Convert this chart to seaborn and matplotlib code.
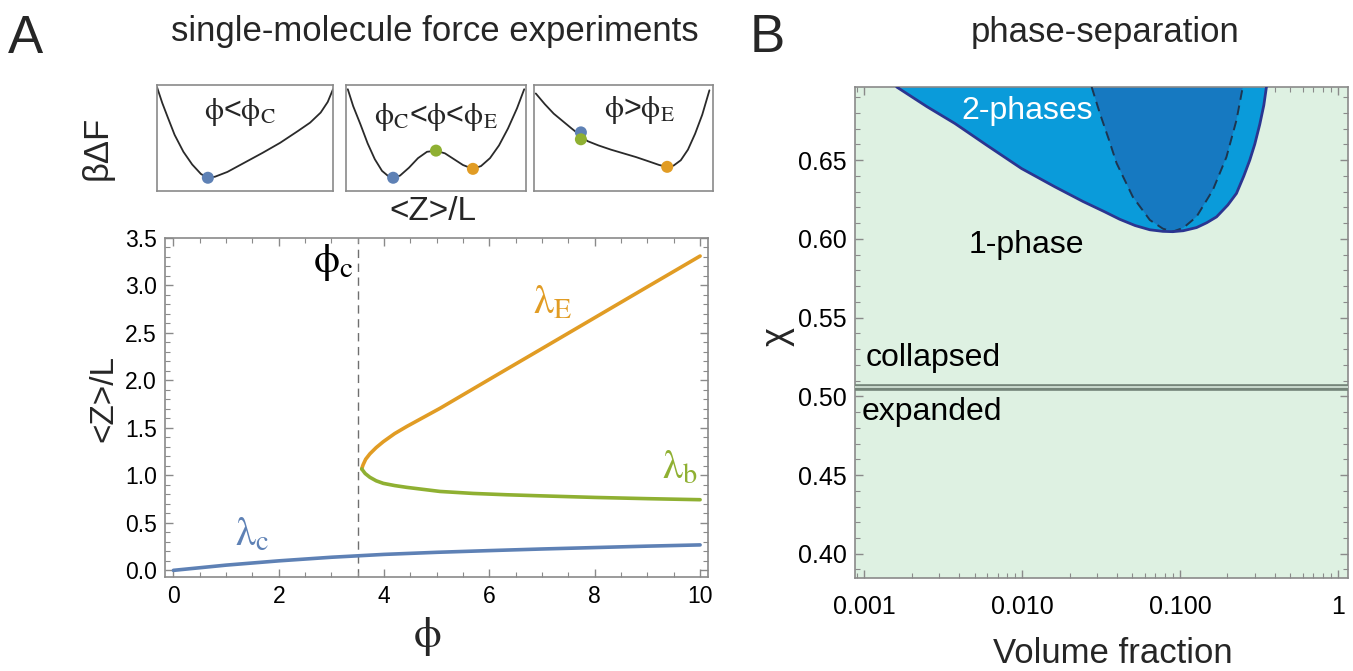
import numpy as np
import pandas as pd
import matplotlib
matplotlib.use("Agg")
import matplotlib.pyplot as plt
import seaborn as sns
from matplotlib.ticker import MultipleLocator, FixedLocator, FixedFormatter, LogLocator, NullFormatter

# ---------------- data : panel A (main) ----------------
lam_c_phi = [0, 1, 2, 3, 4, 5, 6, 7, 8, 9, 10]
lam_c_z = [0.0, 0.055, 0.10, 0.138, 0.168, 0.19, 0.208, 0.225, 0.24, 0.255, 0.268]

lam_e_phi = [3.575, 3.6, 3.65, 3.73, 3.85, 3.985, 4.2, 4.43, 4.75, 5.06, 5.69, 6.33, 6.96, 8, 9, 10]
lam_e_z = [1.068, 1.11, 1.17, 1.227, 1.293, 1.355, 1.44, 1.515, 1.612, 1.706, 1.911, 2.119, 2.323, 2.661, 2.986, 3.31]

lam_b_phi = [3.575, 3.64, 3.73, 3.85, 3.985, 4.2, 4.43, 5.06, 5.69, 6.33, 6.96, 8, 9, 10]
lam_b_z = [1.068, 1.02, 0.98, 0.943, 0.916, 0.893, 0.874, 0.831, 0.81, 0.796, 0.785, 0.768, 0.755, 0.744]

phi_crit = 3.5

# ---------------- data : panel A insets (schematic free energy) ----------------
ins1_x = [0.0, 0.03, 0.06, 0.1, 0.15, 0.2, 0.25, 0.29, 0.33, 0.4, 0.5, 0.6, 0.7, 0.8, 0.87, 0.93, 0.97, 1.0]
ins1_y = [0.98, 0.83, 0.70, 0.53, 0.37, 0.25, 0.16, 0.125, 0.135, 0.18, 0.27, 0.36, 0.455, 0.565, 0.645, 0.74, 0.84, 0.96]
ins1_dots_x = [0.289]
ins1_dots_y = [0.125]

ins2_x = [0.01, 0.04, 0.08, 0.12, 0.16, 0.2, 0.235, 0.262, 0.3, 0.35, 0.4, 0.45, 0.5, 0.55, 0.6, 0.65, 0.705, 0.75, 0.8, 0.85, 0.9, 0.95, 0.99]
ins2_y = [0.96, 0.80, 0.63, 0.45, 0.30, 0.19, 0.14, 0.125, 0.145, 0.22, 0.31, 0.37, 0.38, 0.355, 0.30, 0.245, 0.209, 0.235, 0.31, 0.43, 0.59, 0.78, 0.96]
ins2_dots_x = [0.262, 0.5, 0.705]
ins2_dots_y = [0.125, 0.381, 0.209]

ins3_x = [0.01, 0.06, 0.11, 0.16, 0.21, 0.262, 0.3, 0.36, 0.43, 0.5, 0.57, 0.64, 0.7, 0.744, 0.78, 0.82, 0.86, 0.9, 0.94, 0.98]
ins3_y = [0.92, 0.82, 0.73, 0.66, 0.59, 0.52, 0.47, 0.43, 0.39, 0.355, 0.32, 0.28, 0.245, 0.228, 0.24, 0.29, 0.39, 0.54, 0.72, 0.95]
ins3_dots_x = [0.262, 0.262, 0.744]
ins3_dots_y = [0.553, 0.488, 0.228]

# ---------------- data : panel B (phase diagram) ----------------
binodal_vf = [0.001607, 0.0025, 0.00376, 0.006, 0.00993, 0.01614, 0.0243, 0.0334, 0.0415,
              0.052, 0.0645, 0.078, 0.09, 0.105, 0.1274, 0.148, 0.1706, 0.2009, 0.228, 0.2537,
              0.2768, 0.2977, 0.3204, 0.3398, 0.353]
binodal_chi = [0.6965, 0.684, 0.6733, 0.6594, 0.6447, 0.6331, 0.6238, 0.6172, 0.6125,
               0.6085, 0.6058, 0.6048, 0.6046, 0.6052, 0.6072, 0.6103, 0.614, 0.6215, 0.6289,
               0.6399, 0.65, 0.6601, 0.6728, 0.6849, 0.6965]
spinodal_vf = [0.0276, 0.0311, 0.0355, 0.0397, 0.0503, 0.0645, 0.078, 0.0898, 0.105, 0.1274,
               0.1615, 0.197, 0.228, 0.25]
spinodal_chi = [0.6965, 0.6798, 0.663, 0.6481, 0.6267, 0.612, 0.6065, 0.6046, 0.607, 0.6141,
                0.631, 0.652, 0.6754, 0.6965]
theta_chi = 0.506

# ---------------- ticks ----------------
xticks_A = [0, 2, 4, 6, 8, 10]
yticks_A = [0.0, 0.5, 1.0, 1.5, 2.0, 2.5, 3.0, 3.5]
yticklabels_A = ["0.0", "0.5", "1.0", "1.5", "2.0", "2.5", "3.0", "3.5"]
xticks_B = [0.001, 0.01, 0.1, 1]
xticklabels_B = ["0.001", "0.010", "0.100", "1"]
yticks_B = [0.40, 0.45, 0.50, 0.55, 0.60, 0.65]
yticklabels_B = ["0.40", "0.45", "0.50", "0.55", "0.60", "0.65"]

# ---------------- style ----------------
sns.set_style("ticks")
plt.rcParams["font.family"] = ["Liberation Sans", "DejaVu Sans"]
plt.rcParams["mathtext.fontset"] = "stix"

BLUE = "#5E81B5"
ORANGE = "#E19C24"
GREEN = "#8FB032"
FRAME = "#8a8a8a"
LIGHTBLUE = "#0A9BDA"
DARKBLUE = "#1679C1"
NAVY = "#2B3590"
BG = "#DEF1E2"

W, H = 1353, 671
fig = plt.figure(figsize=(W / 100, H / 100), dpi=100)


def rect(x0, y0, x1, y1):
    return [x0 / W, 1 - y1 / H, (x1 - x0) / W, (y1 - y0) / H]


def frame_style(ax, labelsize):
    for s in ax.spines.values():
        s.set_color(FRAME)
        s.set_linewidth(1.2)
    ax.tick_params(which="both", direction="in", top=True, right=True,
                   color=FRAME, labelsize=labelsize, labelcolor="black")
    ax.tick_params(which="major", length=6, width=1.0, pad=6)
    ax.tick_params(which="minor", length=3.5, width=0.8)


PHI = r"\mathrm{\phi}"

# ---------- Panel A main ----------
axA = fig.add_axes(rect(165, 238, 708, 577))
sns.lineplot(x=lam_c_phi, y=lam_c_z, ax=axA, color=BLUE, lw=2.6, sort=False, estimator=None)
sns.lineplot(x=lam_e_phi, y=lam_e_z, ax=axA, color=ORANGE, lw=2.6, sort=False, estimator=None)
sns.lineplot(x=lam_b_phi, y=lam_b_z, ax=axA, color=GREEN, lw=2.6, sort=False, estimator=None)
axA.axvline(phi_crit, color="#6f6f6f", lw=1.0, ls=(0, (6, 4)), zorder=0)
axA.set_xlim(-0.16, 10.15)
axA.set_ylim(-0.07, 3.5)
axA.xaxis.set_major_locator(FixedLocator(xticks_A))
axA.xaxis.set_minor_locator(MultipleLocator(0.5))
axA.yaxis.set_major_locator(FixedLocator(yticks_A))
axA.yaxis.set_major_formatter(FixedFormatter(yticklabels_A))
axA.yaxis.set_minor_locator(MultipleLocator(0.1))
frame_style(axA, 16.5)
axA.set_xlabel("")
axA.set_ylabel("")

axA.text(3.42, 3.24, r"$" + PHI + r"_{\mathrm{c}}$", fontsize=30, ha="right", va="center", color="black")
axA.text(7.2, 2.82, r"$\mathrm{\lambda}_{\mathrm{E}}$", fontsize=29, ha="center", va="center", color=ORANGE)
axA.text(9.62, 1.08, r"$\mathrm{\lambda}_{\mathrm{b}}$", fontsize=29, ha="center", va="center", color=GREEN)
axA.text(1.5, 0.38, r"$\mathrm{\lambda}_{\mathrm{c}}$", fontsize=29, ha="center", va="center", color=BLUE)

fig.text(104 / W, 1 - 398 / H, "<Z>/L", fontsize=24, rotation=90, ha="center", va="center")
fig.text(427 / W, 1 - 636 / H, r"$" + PHI + r"$", fontsize=32, ha="center", va="center")

# ---------- Panel A insets ----------
inset_specs = [
    (rect(157, 85, 333, 191), ins1_x, ins1_y, ins1_dots_x, ins1_dots_y, [BLUE],
     r"$" + PHI + r"$<$" + PHI + r"_{\mathrm{C}}$", 0.47, 0.75),
    (rect(346, 85, 526, 191), ins2_x, ins2_y, ins2_dots_x, ins2_dots_y, [BLUE, GREEN, ORANGE],
     r"$" + PHI + r"_{\mathrm{C}}$<$" + PHI + r"$<$" + PHI + r"_{\mathrm{E}}$", 0.50, 0.70),
    (rect(534, 85, 713, 191), ins3_x, ins3_y, ins3_dots_x, ins3_dots_y, [BLUE, GREEN, ORANGE],
     r"$" + PHI + r"$>$" + PHI + r"_{\mathrm{E}}$", 0.59, 0.76),
]
for r, xs, ys, dx, dy, cols, lab, lx, ly in inset_specs:
    ax = fig.add_axes(r)
    sns.lineplot(x=xs, y=ys, ax=ax, color="#2a2a2a", lw=1.3, sort=False, estimator=None)
    sns.scatterplot(x=dx, y=dy, ax=ax, hue=list(range(len(dx))), palette=cols, s=75,
                    edgecolor="none", zorder=5, legend=False)
    ax.set_xlim(0, 1)
    ax.set_ylim(0, 1)
    ax.set_xticks([])
    ax.set_yticks([])
    ax.set_xlabel("")
    ax.set_ylabel("")
    for s in ax.spines.values():
        s.set_color(FRAME)
        s.set_linewidth(1.2)
    ax.text(lx, ly, lab, transform=ax.transAxes, fontsize=22, ha="center", va="center")

fig.text(97 / W, 1 - 148 / H, "βΔF", fontsize=25, rotation=90, ha="center", va="center")
fig.text(433 / W, 1 - 212 / H, "<Z>/L", fontsize=24, ha="center", va="center")

fig.text(8 / W, 1 - 53 / H, "A", fontsize=38, ha="left", va="baseline")
fig.text(435 / W, 1 - 41 / H, "single-molecule force experiments", fontsize=25,
         ha="center", va="baseline")

# ---------- Panel B ----------
axB = fig.add_axes(rect(855, 87, 1348, 578))
axB.set_xscale("log")
axB.set_facecolor(BG)
axB.fill(binodal_vf, binodal_chi, color=LIGHTBLUE, lw=0, zorder=1)
axB.fill(spinodal_vf, spinodal_chi, color=DARKBLUE, lw=0, zorder=2)
sns.lineplot(x=spinodal_vf, y=spinodal_chi, ax=axB, color="#1d3550", lw=1.4,
             linestyle=(0, (5, 3)), sort=False, estimator=None, zorder=3)
sns.lineplot(x=binodal_vf, y=binodal_chi, ax=axB, color=NAVY, lw=2.0,
             sort=False, estimator=None, zorder=4)
axB.axhline(theta_chi, color="#75857a", lw=4.8, zorder=3)
axB.axhline(theta_chi, color="#c9d9cd", lw=1.4, zorder=4)
axB.set_xlim(0.000875, 1.16)
axB.set_ylim(0.3846, 0.6965)
axB.xaxis.set_major_locator(FixedLocator(xticks_B))
axB.xaxis.set_major_formatter(FixedFormatter(xticklabels_B))
axB.xaxis.set_minor_locator(LogLocator(base=10, subs=np.arange(2, 10)))
axB.xaxis.set_minor_formatter(NullFormatter())
axB.yaxis.set_major_locator(FixedLocator(yticks_B))
axB.yaxis.set_major_formatter(FixedFormatter(yticklabels_B))
axB.yaxis.set_minor_locator(MultipleLocator(0.01))
frame_style(axB, 18)
axB.tick_params(axis="x", which="major", pad=12)
axB.set_xlabel("")
axB.set_ylabel("")

axB.text(0.0107, 0.6764, "2-phases", fontsize=23, color="white", ha="center", va="baseline", zorder=6)
axB.text(0.0106, 0.5908, "1-phase", fontsize=23, color="black", ha="center", va="baseline", zorder=6)
axB.text(0.00102, 0.519, "collapsed", fontsize=23, color="black", ha="left", va="baseline", zorder=6)
axB.text(0.00097, 0.4852, "expanded", fontsize=23, color="black", ha="left", va="baseline", zorder=6)

fig.text(777 / W, 1 - 337 / H, "χ", fontsize=26, rotation=90, ha="center", va="center")
fig.text(1113 / W, 1 - 663 / H, "Volume fraction", fontsize=25, ha="center", va="baseline")
fig.text(750 / W, 1 - 52 / H, "B", fontsize=38, ha="left", va="baseline")
fig.text(1105 / W, 1 - 42 / H, "phase-separation", fontsize=25, ha="center", va="baseline")

fig.savefig("out.png", dpi=100, facecolor="white")
